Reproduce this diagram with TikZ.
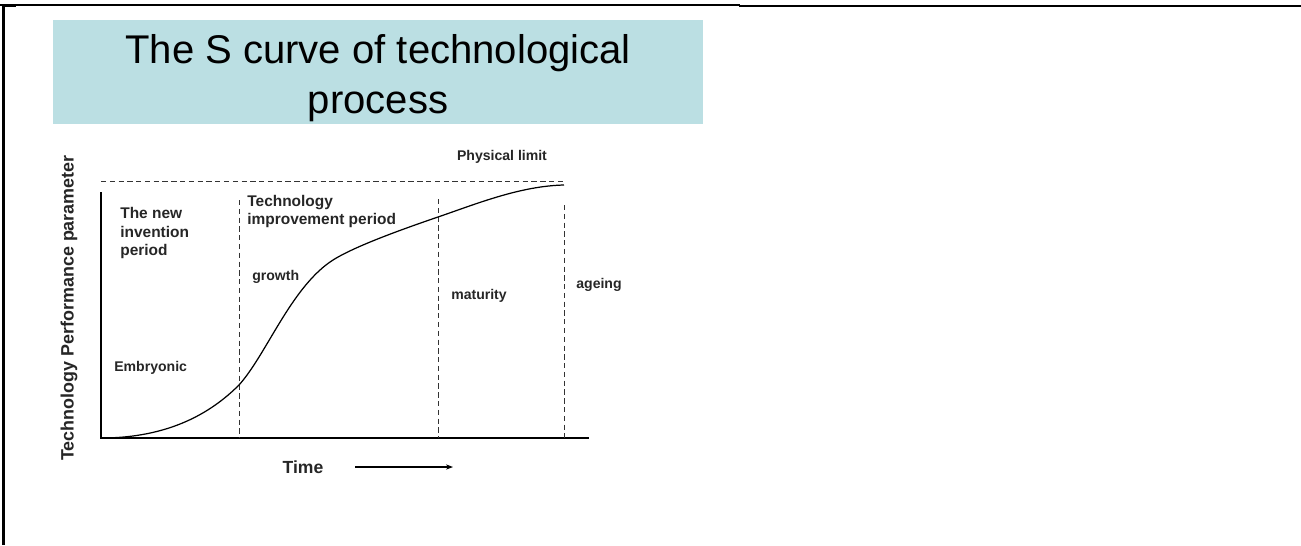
\documentclass[tikz,border=0pt]{standalone}
\usepackage{fontspec}
\setmainfont{Liberation Sans}
\setsansfont{Liberation Sans}
\usepackage{xcolor}
\usetikzlibrary{arrows, arrows.meta}
\definecolor{titleblue}{RGB}{187,223,227}
\tikzset{
	lbl/.style={font=\fontsize{8}{9.6}\selectfont\bfseries, inner sep=0pt, text=black!85},
	biglbl/.style={font=\fontsize{8.8}{10.8}\selectfont\bfseries, inner sep=0pt, align=left, text=black!85},
	sep/.style={densely dashed, line width=0.4pt, black!80}
}

\begin{document}
\begin{tikzpicture}[x=0.02cm, y=-0.02cm]
	\useasboundingbox (0,0) rectangle (1301,545);
	\draw[line width=0.6pt](0,5) -- (740,5);
	\draw[line width=1.3pt](739,6) -- (1301,6);
	\draw[line width=1.3pt](3.5,5) -- (3.5,545);
	\draw[line width=1.3pt](3,6) -- (16,6);
	\fill[titleblue](53,20) rectangle (703,124);
	\node[align=center, inner sep=0pt, font=\fontsize{22.8}{28.5}\selectfont](title) at (378,78){The S curve of technological\\process};
	\draw[line width=0.6pt](101,192) -- (101,438) -- (589,438);
	\draw[sep](101,181) -- (564,181);
	\foreach \xx/\yy in {239/200, 438/199, 564/205}
	{
			\draw[sep](\xx,\yy) -- (\xx,438);
	}
	\draw[line width=0.7pt](101,438) .. controls (170,438) and (212,412) .. (239,385)
		.. controls (266,355) and (290,290) .. (330,262)
		.. controls (350,248) and (400,230) .. (438,217)
		.. controls (476,204) and (520,186) .. (564,185);
	\node[lbl](limit) at (502,157){Physical limit};
	\node[biglbl, anchor=west](newinv) at (120,233){The new\\invention\\period};
	\node[biglbl, anchor=west](improve) at (247,211.5){Technology\\improvement period};
	\node[lbl, anchor=west](embryo) at (114,368){Embryonic};
	\node[lbl, anchor=west](growth) at (252,277){growth};
	\node[lbl](maturity) at (479,296){maturity};
	\node[lbl](ageing) at (599,285){ageing};
	\node[font=\fontsize{10}{12}\selectfont\bfseries, inner sep=0pt, text=black!85](time) at (303,467){Time};
	\node[font=\fontsize{10.2}{12}\selectfont\bfseries, inner sep=0pt, rotate=90, text=black!85](yaxis) at (69,308){Technology Performance parameter};
	\coordinate (tstart) at (355,467);
	\coordinate (tend) at (453,467);
	\draw[-{Stealth[length=4pt, width=3pt]}, line width=0.6pt](tstart) -- (tend);
\end{tikzpicture}
\end{document}
